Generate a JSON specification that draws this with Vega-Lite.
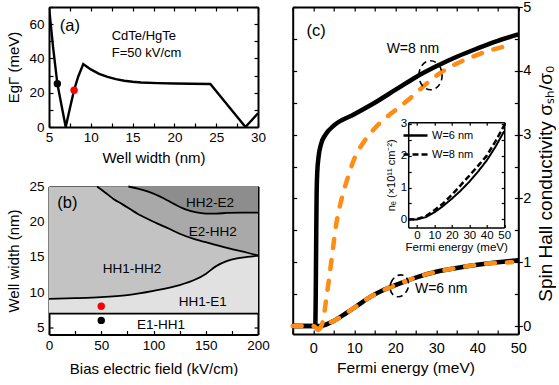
{
  "$schema": "https://vega.github.io/schema/vega-lite/v6.json",
  "padding": {"left": 6, "top": -1, "right": 0, "bottom": 0},
  "autosize": {"type": "pad"},
  "config": {
    "font": "Liberation Sans",
    "view": {"stroke": null},
    "axis": {"domainColor": "black", "domainWidth": 2, "tickColor": "black", "tickWidth": 1.2, "tickSize": -4, "labelColor": "black", "titleColor": "black", "labelFlush": false, "labelOverlap": false, "labelBound": false, "grid": false, "titleFontWeight": "normal", "zindex": 1, "labelFontSize": 13.5, "titleFontSize": 15, "labelFont": "Liberation Sans", "titleFont": "Liberation Sans"},
    "text": {"font": "Liberation Sans", "color": "black"}
  },
  "datasets": {
    "a_curve": [
      {"x": 5, "y": 70}, {"x": 5.5, "y": 46}, {"x": 6, "y": 25.3}, {"x": 6.5, "y": 12.5}, {"x": 7, "y": 0},
      {"x": 7.5, "y": 11}, {"x": 8, "y": 21.5}, {"x": 8.5, "y": 29.5}, {"x": 9.1, "y": 36.7}, {"x": 9.5, "y": 35.3},
      {"x": 10, "y": 33.6}, {"x": 11, "y": 31}, {"x": 12, "y": 29.2}, {"x": 13, "y": 27.9}, {"x": 14, "y": 27},
      {"x": 15, "y": 26.4}, {"x": 16, "y": 26}, {"x": 18, "y": 25.6}, {"x": 20, "y": 25.4}, {"x": 22, "y": 25.2},
      {"x": 24.3, "y": 25.1}, {"x": 28.5, "y": 0}, {"x": 30, "y": 8}
    ],
    "a_dots": [{"x": 6, "y": 25.3, "W": "6 nm"}, {"x": 8, "y": 21.5, "W": "8 nm"}],
    "a_label": [{"x": 7.5, "y": 58.9, "label": "(a)"}],
    "a_note": [{"x": 12.5, "y": 53.2, "label": "CdTe/HgTe"}, {"x": 12.5, "y": 43.4, "label": "F=50 kV/cm"}],
    "b_area": [
      {"region": "HH1-E1", "x": 0, "lo": 6.95, "hi": 9.05}, {"region": "HH1-E1", "x": 25, "lo": 6.95, "hi": 9.15},
      {"region": "HH1-E1", "x": 50, "lo": 6.95, "hi": 9.3}, {"region": "HH1-E1", "x": 75, "lo": 6.95, "hi": 9.6},
      {"region": "HH1-E1", "x": 100, "lo": 6.95, "hi": 10.2}, {"region": "HH1-E1", "x": 125, "lo": 6.95, "hi": 11.0},
      {"region": "HH1-E1", "x": 140, "lo": 6.95, "hi": 11.8}, {"region": "HH1-E1", "x": 150, "lo": 6.95, "hi": 12.6},
      {"region": "HH1-E1", "x": 160, "lo": 6.95, "hi": 13.7}, {"region": "HH1-E1", "x": 170, "lo": 6.95, "hi": 14.4},
      {"region": "HH1-E1", "x": 180, "lo": 6.95, "hi": 14.8}, {"region": "HH1-E1", "x": 190, "lo": 6.95, "hi": 15.0},
      {"region": "HH1-E1", "x": 200, "lo": 6.95, "hi": 15.2},
      {"region": "HH1-HH2", "x": 0, "lo": 9.05, "hi": 25}, {"region": "HH1-HH2", "x": 25, "lo": 9.15, "hi": 25},
      {"region": "HH1-HH2", "x": 50, "lo": 9.3, "hi": 25}, {"region": "HH1-HH2", "x": 75, "lo": 9.6, "hi": 25},
      {"region": "HH1-HH2", "x": 100, "lo": 10.2, "hi": 25}, {"region": "HH1-HH2", "x": 125, "lo": 11.0, "hi": 25},
      {"region": "HH1-HH2", "x": 140, "lo": 11.8, "hi": 25}, {"region": "HH1-HH2", "x": 150, "lo": 12.6, "hi": 25},
      {"region": "HH1-HH2", "x": 160, "lo": 13.7, "hi": 25}, {"region": "HH1-HH2", "x": 170, "lo": 14.4, "hi": 25},
      {"region": "HH1-HH2", "x": 180, "lo": 14.8, "hi": 25}, {"region": "HH1-HH2", "x": 190, "lo": 15.0, "hi": 25},
      {"region": "HH1-HH2", "x": 200, "lo": 15.2, "hi": 25},
      {"region": "E2-HH2", "x": 46, "lo": 25, "hi": 25}, {"region": "E2-HH2", "x": 55, "lo": 24.0, "hi": 25},
      {"region": "E2-HH2", "x": 62, "lo": 23.2, "hi": 25}, {"region": "E2-HH2", "x": 70, "lo": 22.5, "hi": 25},
      {"region": "E2-HH2", "x": 85, "lo": 21.1, "hi": 25}, {"region": "E2-HH2", "x": 100, "lo": 20.0, "hi": 25},
      {"region": "E2-HH2", "x": 115, "lo": 19.0, "hi": 25}, {"region": "E2-HH2", "x": 125, "lo": 18.3, "hi": 25},
      {"region": "E2-HH2", "x": 140, "lo": 17.5, "hi": 25}, {"region": "E2-HH2", "x": 150, "lo": 17.1, "hi": 25},
      {"region": "E2-HH2", "x": 165, "lo": 16.5, "hi": 25}, {"region": "E2-HH2", "x": 175, "lo": 16.1, "hi": 25},
      {"region": "E2-HH2", "x": 190, "lo": 15.6, "hi": 25}, {"region": "E2-HH2", "x": 200, "lo": 15.2, "hi": 25},
      {"region": "HH2-E2", "x": 76, "lo": 25, "hi": 25}, {"region": "HH2-E2", "x": 85, "lo": 24.7, "hi": 25},
      {"region": "HH2-E2", "x": 100, "lo": 24.0, "hi": 25}, {"region": "HH2-E2", "x": 110, "lo": 23.3, "hi": 25},
      {"region": "HH2-E2", "x": 120, "lo": 22.5, "hi": 25}, {"region": "HH2-E2", "x": 130, "lo": 21.8, "hi": 25},
      {"region": "HH2-E2", "x": 140, "lo": 21.35, "hi": 25}, {"region": "HH2-E2", "x": 150, "lo": 21.15, "hi": 25},
      {"region": "HH2-E2", "x": 160, "lo": 21.15, "hi": 25}, {"region": "HH2-E2", "x": 170, "lo": 21.25, "hi": 25},
      {"region": "HH2-E2", "x": 185, "lo": 21.3, "hi": 25}, {"region": "HH2-E2", "x": 200, "lo": 21.3, "hi": 25}
    ],
    "b_dots": [{"x": 50, "y": 8, "W": "8 nm"}, {"x": 50, "y": 6, "W": "6 nm"}],
    "b_label": [{"x": 17.6, "y": 22.6, "label": "(b)"}],
    "b_note": [
      {"x": 154, "y": 22.7, "label": "HH2-E2"}, {"x": 156.8, "y": 18.6, "label": "E2-HH2"},
      {"x": 79.4, "y": 13.3, "label": "HH1-HH2"}, {"x": 147.2, "y": 8.67, "label": "HH1-E1"},
      {"x": 107.2, "y": 5.34, "label": "E1-HH1"}
    ],
    "c_s8": [
      {"x": -5, "y": 0}, {"x": 0.5, "y": 0}, {"x": 0.62, "y": 0.5}, {"x": 0.72, "y": 1.3}, {"x": 0.82, "y": 2.0},
      {"x": 0.98, "y": 2.4}, {"x": 1.3, "y": 2.65}, {"x": 1.9, "y": 2.85}, {"x": 3, "y": 3.0}, {"x": 5, "y": 3.14},
      {"x": 10, "y": 3.32}, {"x": 15, "y": 3.5}, {"x": 20, "y": 3.7}, {"x": 25, "y": 3.9}, {"x": 30, "y": 4.07},
      {"x": 35, "y": 4.22}, {"x": 40, "y": 4.35}, {"x": 45, "y": 4.47}, {"x": 50, "y": 4.57}
    ],
    "c_s6": [
      {"x": -5, "y": 0}, {"x": 1.5, "y": 0}, {"x": 3, "y": 0.02}, {"x": 5, "y": 0.08}, {"x": 8, "y": 0.2},
      {"x": 11, "y": 0.33}, {"x": 14, "y": 0.46}, {"x": 17, "y": 0.56}, {"x": 20, "y": 0.64}, {"x": 25, "y": 0.76},
      {"x": 30, "y": 0.85}, {"x": 35, "y": 0.91}, {"x": 40, "y": 0.96}, {"x": 45, "y": 1.0}, {"x": 50, "y": 1.03}
    ],
    "c_d8": [
      {"x": 1.2, "y": -0.06}, {"x": 1.8, "y": -0.02}, {"x": 2.5, "y": 0.12}, {"x": 3.1, "y": 0.39}, {"x": 3.9, "y": 0.76},
      {"x": 4.75, "y": 1.18}, {"x": 5.6, "y": 1.59}, {"x": 6.8, "y": 1.96}, {"x": 8.4, "y": 2.32}, {"x": 10, "y": 2.62},
      {"x": 12.5, "y": 2.9}, {"x": 15, "y": 3.1}, {"x": 18, "y": 3.28}, {"x": 21, "y": 3.43}, {"x": 24.7, "y": 3.63},
      {"x": 29.1, "y": 3.88}, {"x": 33.6, "y": 4.07}, {"x": 38.1, "y": 4.2}, {"x": 42.6, "y": 4.31}, {"x": 48, "y": 4.4}
    ],
    "c_d6": [
      {"x": -5, "y": 0}, {"x": 0, "y": 0}, {"x": 0.7, "y": -0.03}, {"x": 1.2, "y": -0.06}, {"x": 2, "y": -0.01},
      {"x": 3, "y": 0.03}, {"x": 5, "y": 0.08}, {"x": 8, "y": 0.2}, {"x": 11, "y": 0.33}, {"x": 14, "y": 0.46},
      {"x": 17, "y": 0.56}, {"x": 20, "y": 0.64}, {"x": 25, "y": 0.76}, {"x": 30, "y": 0.85}, {"x": 35, "y": 0.91},
      {"x": 40, "y": 0.96}, {"x": 45, "y": 0.99}, {"x": 48.5, "y": 1.0}
    ],
    "c_ell8": [{"x": 28.6, "y": 3.93}],
    "c_ell6": [{"x": 21.0, "y": 0.63}],
    "c_label": [{"x": 0.7, "y": 4.62, "label": "(c)"}],
    "c_note": [{"x": 24.3, "y": 4.34, "label": "W=8 nm"}, {"x": 31.2, "y": 0.575, "label": "W=6 nm"}],
    "c_inset": [
      {"W": "W=6 nm", "x": -5, "y": 0}, {"W": "W=6 nm", "x": 0, "y": 0}, {"W": "W=6 nm", "x": 5, "y": 0.07},
      {"W": "W=6 nm", "x": 10, "y": 0.22}, {"W": "W=6 nm", "x": 15, "y": 0.42}, {"W": "W=6 nm", "x": 20, "y": 0.65},
      {"W": "W=6 nm", "x": 25, "y": 0.9}, {"W": "W=6 nm", "x": 30, "y": 1.18}, {"W": "W=6 nm", "x": 35, "y": 1.5},
      {"W": "W=6 nm", "x": 40, "y": 1.85}, {"W": "W=6 nm", "x": 45, "y": 2.28}, {"W": "W=6 nm", "x": 50, "y": 2.77},
      {"W": "W=8 nm", "x": -5, "y": 0}, {"W": "W=8 nm", "x": 0, "y": 0.01}, {"W": "W=8 nm", "x": 5, "y": 0.1},
      {"W": "W=8 nm", "x": 10, "y": 0.29}, {"W": "W=8 nm", "x": 15, "y": 0.5}, {"W": "W=8 nm", "x": 20, "y": 0.77},
      {"W": "W=8 nm", "x": 25, "y": 1.07}, {"W": "W=8 nm", "x": 30, "y": 1.37}, {"W": "W=8 nm", "x": 35, "y": 1.68},
      {"W": "W=8 nm", "x": 40, "y": 2.0}, {"W": "W=8 nm", "x": 45, "y": 2.45}, {"W": "W=8 nm", "x": 50, "y": 2.95}
    ]
  },
  "spacing": 13.7,
  "hconcat": [
    {
      "vconcat": [
        {
          "width": 209, "height": 120,
          "resolve": {"axis": {"x": "independent", "y": "independent"}},
          "layer": [
            {
              "data": {"name": "a_curve"},
              "mark": {"type": "line", "color": "black", "strokeWidth": 2.4, "clip": true},
              "encoding": {
                "x": {"field": "x", "type": "quantitative", "scale": {"domain": [5, 30], "nice": false, "zero": false},
                  "axis": {"orient": "bottom", "title": "Well width (nm)", "values": [5, 7.5, 10, 12.5, 15, 17.5, 20, 22.5, 25, 27.5, 30], "labelExpr": "datum.value % 5 === 0 ? datum.label : ''", "labelPadding": 7, "titlePadding": 7}},
                "y": {"field": "y", "type": "quantitative", "scale": {"domain": [0, 70], "nice": false, "zero": false},
                  "axis": {"orient": "left", "title": "EgΓ (meV)", "values": [0, 10, 20, 30, 40, 50, 60, 70], "labelExpr": "datum.value % 20 === 0 ? datum.label : ''", "labelPadding": 9, "titlePadding": 6, "minExtent": 22, "maxExtent": 22}}
              }
            },
            {
              "data": {"name": "a_dots"},
              "mark": {"type": "circle", "size": 55, "opacity": 1},
              "encoding": {
                "x": {"field": "x", "type": "quantitative", "axis": {"orient": "top", "labels": false, "title": null, "values": [5, 7.5, 10, 12.5, 15, 17.5, 20, 22.5, 25, 27.5, 30]}},
                "y": {"field": "y", "type": "quantitative", "axis": {"orient": "right", "labels": false, "title": null, "values": [0, 10, 20, 30, 40, 50, 60, 70]}},
                "color": {"field": "W", "type": "nominal", "scale": {"domain": ["6 nm", "8 nm"], "range": ["black", "#ff0000"]}, "legend": null}
              }
            },
            {
              "data": {"name": "a_label"},
              "mark": {"type": "text", "fontSize": 16.5, "align": "center", "baseline": "middle"},
              "encoding": {
                "x": {"field": "x", "type": "quantitative", "axis": null},
                "y": {"field": "y", "type": "quantitative", "axis": null},
                "text": {"field": "label"}
              }
            },
            {
              "data": {"name": "a_note"},
              "mark": {"type": "text", "fontSize": 13, "align": "left", "baseline": "middle"},
              "encoding": {
                "x": {"field": "x", "type": "quantitative", "axis": null},
                "y": {"field": "y", "type": "quantitative", "axis": null},
                "text": {"field": "label"}
              }
            }
          ]
        },
        {
          "width": 209, "height": 148,
          "resolve": {"axis": {"x": "independent", "y": "independent"}},
          "layer": [
            {
              "data": {"name": "b_area"},
              "transform": [{"filter": "datum.region === 'HH1-E1'"}],
              "mark": {"type": "area", "color": "#e1e1e1", "interpolate": "monotone", "opacity": 1},
              "encoding": {
                "x": {"field": "x", "type": "quantitative", "scale": {"domain": [0, 200], "nice": false, "zero": false},
                  "axis": {"orient": "bottom", "title": "Bias electric field (kV/cm)", "values": [0, 25, 50, 75, 100, 125, 150, 175, 200], "labelExpr": "datum.value % 50 === 0 ? datum.label : ''", "labelPadding": 8, "titlePadding": 9}},
                "y": {"field": "lo", "type": "quantitative", "scale": {"domain": [4, 25], "nice": false, "zero": false},
                  "axis": {"orient": "left", "title": "Well width (nm)", "values": [5, 7.5, 10, 12.5, 15, 17.5, 20, 22.5, 25], "labelExpr": "datum.value % 5 === 0 ? datum.label : ''", "labelPadding": 9, "titlePadding": 6, "minExtent": 22, "maxExtent": 22}},
                "y2": {"field": "hi"}
              }
            },
            {
              "data": {"name": "b_area"},
              "transform": [{"filter": "datum.region === 'HH1-HH2'"}],
              "mark": {"type": "area", "color": "#c3c3c3", "interpolate": "monotone", "opacity": 1},
              "encoding": {
                "x": {"field": "x", "type": "quantitative", "axis": null},
                "y": {"field": "lo", "type": "quantitative", "axis": null},
                "y2": {"field": "hi"}
              }
            },
            {
              "data": {"name": "b_area"},
              "transform": [{"filter": "datum.region === 'E2-HH2'"}],
              "mark": {"type": "area", "color": "#a9a9a9", "interpolate": "monotone", "opacity": 1},
              "encoding": {
                "x": {"field": "x", "type": "quantitative", "axis": null},
                "y": {"field": "lo", "type": "quantitative", "axis": null},
                "y2": {"field": "hi"}
              }
            },
            {
              "data": {"name": "b_area"},
              "transform": [{"filter": "datum.region === 'HH2-E2'"}],
              "mark": {"type": "area", "color": "#8d8d8d", "interpolate": "monotone", "opacity": 1},
              "encoding": {
                "x": {"field": "x", "type": "quantitative", "axis": null},
                "y": {"field": "lo", "type": "quantitative", "axis": null},
                "y2": {"field": "hi"}
              }
            },
            {
              "data": {"name": "b_area"},
              "mark": {"type": "line", "color": "black", "strokeWidth": 1.8, "interpolate": "monotone"},
              "encoding": {
                "x": {"field": "x", "type": "quantitative", "axis": null},
                "y": {"field": "lo", "type": "quantitative", "axis": null},
                "detail": {"field": "region"}
              }
            },
            {
              "data": {"name": "b_dots"},
              "mark": {"type": "circle", "size": 55, "opacity": 1},
              "encoding": {
                "x": {"field": "x", "type": "quantitative", "axis": {"orient": "top", "labels": false, "title": null, "values": [0, 25, 50, 75, 100, 125, 150, 175, 200]}},
                "y": {"field": "y", "type": "quantitative", "axis": {"orient": "right", "labels": false, "title": null, "values": [5, 7.5, 10, 12.5, 15, 17.5, 20, 22.5, 25]}},
                "color": {"field": "W", "type": "nominal", "scale": {"domain": ["6 nm", "8 nm"], "range": ["black", "#ff0000"]}, "legend": null}
              }
            },
            {
              "data": {"name": "b_label"},
              "mark": {"type": "text", "fontSize": 16.5, "align": "center", "baseline": "middle"},
              "encoding": {
                "x": {"field": "x", "type": "quantitative", "axis": null},
                "y": {"field": "y", "type": "quantitative", "axis": null},
                "text": {"field": "label"}
              }
            },
            {
              "data": {"name": "b_note"},
              "mark": {"type": "text", "fontSize": 13.5, "align": "center", "baseline": "middle"},
              "encoding": {
                "x": {"field": "x", "type": "quantitative", "axis": null},
                "y": {"field": "y", "type": "quantitative", "axis": null},
                "text": {"field": "label"}
              }
            }
          ]
        }
      ],
      "spacing": 59.5,
      "bounds": "flush"
    },
    {
      "width": 225.6, "height": 327,
      "resolve": {"scale": {"x": "independent", "y": "independent"}},
      "layer": [
        {
          "data": {"name": "c_s8"},
          "mark": {"type": "line", "color": "black", "strokeWidth": 4.5, "interpolate": "monotone"},
          "encoding": {
            "x": {"field": "x", "type": "quantitative", "scale": {"domain": [-5, 50], "nice": false, "zero": false},
              "axis": {"orient": "bottom", "title": "Fermi energy (meV)", "values": [-5, 0, 5, 10, 15, 20, 25, 30, 35, 40, 45, 50], "labelExpr": "datum.value % 10 === 0 ? datum.label : ''", "labelFontSize": 14.5, "labelPadding": 11, "titleFontSize": 15.5, "titlePadding": 6}},
            "y": {"field": "y", "type": "quantitative", "scale": {"domain": [-0.125, 5], "nice": false, "zero": false},
              "axis": {"orient": "left", "labels": false, "title": null, "values": [0, 0.5, 1, 1.5, 2, 2.5, 3, 3.5, 4, 4.5, 5]}}
          }
        },
        {
          "data": {"name": "c_s6"},
          "mark": {"type": "line", "color": "black", "strokeWidth": 4.5, "interpolate": "monotone"},
          "encoding": {
            "x": {"field": "x", "type": "quantitative", "scale": {"domain": [-5, 50], "nice": false, "zero": false},
              "axis": {"orient": "top", "labels": false, "title": null, "values": [-5, 0, 5, 10, 15, 20, 25, 30, 35, 40, 45, 50]}},
            "y": {"field": "y", "type": "quantitative", "scale": {"domain": [-0.125, 5], "nice": false, "zero": false},
              "axis": {"orient": "right", "title": "Spin Hall conductivity σₛₕ/σ₀", "values": [0, 0.5, 1, 1.5, 2, 2.5, 3, 3.5, 4, 4.5, 5], "labelExpr": "datum.value % 1 === 0 ? format(datum.value, 'd') : ''", "labelFontSize": 14.5, "labelPadding": 8.5, "titleFontSize": 19, "titleAngle": 270, "titleBaseline": "top", "titlePadding": 6, "titleY": 176}}
          }
        },
        {
          "data": {"name": "c_d8"},
          "mark": {"type": "line", "color": "#ff8c14", "strokeWidth": 4.5, "strokeDash": [9, 12], "strokeCap": "round", "interpolate": "monotone"},
          "encoding": {
            "x": {"field": "x", "type": "quantitative", "scale": {"domain": [-5, 50], "nice": false, "zero": false}, "axis": null},
            "y": {"field": "y", "type": "quantitative", "scale": {"domain": [-0.125, 5], "nice": false, "zero": false},
              "axis": {"orient": "right", "labels": false, "title": null, "domain": false, "values": [0, 1, 2, 3, 4, 5], "tickSize": 4}}
          }
        },
        {
          "data": {"name": "c_d6"},
          "mark": {"type": "line", "color": "#ff8c14", "strokeWidth": 4.5, "strokeDash": [9, 12], "strokeCap": "round", "interpolate": "monotone"},
          "encoding": {
            "x": {"field": "x", "type": "quantitative", "scale": {"domain": [-5, 50], "nice": false, "zero": false}, "axis": null},
            "y": {"field": "y", "type": "quantitative", "scale": {"domain": [-0.125, 5], "nice": false, "zero": false}, "axis": null}
          }
        },
        {
          "data": {"name": "c_ell8"},
          "mark": {"type": "point", "shape": "M -0.8 0 A 0.8 1 0 1 1 0.8 0 A 0.8 1 0 1 1 -0.8 0 Z", "size": 841, "filled": false, "stroke": "black", "strokeWidth": 1.6, "strokeDash": [6, 4], "opacity": 1},
          "encoding": {
            "x": {"field": "x", "type": "quantitative", "scale": {"domain": [-5, 50], "nice": false, "zero": false}, "axis": null},
            "y": {"field": "y", "type": "quantitative", "scale": {"domain": [-0.125, 5], "nice": false, "zero": false}, "axis": null}
          }
        },
        {
          "data": {"name": "c_ell6"},
          "mark": {"type": "point", "shape": "M -0.8 0 A 0.8 1 0 1 1 0.8 0 A 0.8 1 0 1 1 -0.8 0 Z", "size": 500, "angle": 20, "filled": false, "stroke": "black", "strokeWidth": 1.6, "strokeDash": [6, 4], "opacity": 1},
          "encoding": {
            "x": {"field": "x", "type": "quantitative", "scale": {"domain": [-5, 50], "nice": false, "zero": false}, "axis": null},
            "y": {"field": "y", "type": "quantitative", "scale": {"domain": [-0.125, 5], "nice": false, "zero": false}, "axis": null}
          }
        },
        {
          "data": {"name": "c_label"},
          "mark": {"type": "text", "fontSize": 16.5, "align": "center", "baseline": "middle"},
          "encoding": {
            "x": {"field": "x", "type": "quantitative", "scale": {"domain": [-5, 50], "nice": false, "zero": false}, "axis": null},
            "y": {"field": "y", "type": "quantitative", "scale": {"domain": [-0.125, 5], "nice": false, "zero": false}, "axis": null},
            "text": {"field": "label"}
          }
        },
        {
          "data": {"name": "c_note"},
          "mark": {"type": "text", "fontSize": 14, "align": "center", "baseline": "middle"},
          "encoding": {
            "x": {"field": "x", "type": "quantitative", "scale": {"domain": [-5, 50], "nice": false, "zero": false}, "axis": null},
            "y": {"field": "y", "type": "quantitative", "scale": {"domain": [-0.125, 5], "nice": false, "zero": false}, "axis": null},
            "text": {"field": "label"}
          }
        },
        {
          "data": {"name": "c_inset"},
          "transform": [{"filter": "datum.W === 'W=6 nm'"}],
          "mark": {"type": "line", "color": "black", "strokeWidth": 2},
          "encoding": {
            "x": {"field": "x", "type": "quantitative", "scale": {"domain": [-5, 50], "range": [115.5, 211.5], "nice": false, "zero": false},
              "axis": {"orient": "bottom", "offset": -106.6, "title": "Fermi energy (meV)", "values": [0, 10, 20, 30, 40, 50], "labelFontSize": 11.5, "titleFontSize": 11.5, "labelPadding": 5, "titlePadding": 1, "tickSize": -3, "domainWidth": 1.5}},
            "y": {"field": "y", "type": "quantitative", "scale": {"domain": [-0.25, 3.05], "range": [220.4, 115.2], "nice": false, "zero": false},
              "axis": {"orient": "left", "offset": -115.5, "title": "nₑ (×10¹¹ cm⁻²)", "values": [0, 0.5, 1, 1.5, 2, 2.5, 3], "labelExpr": "datum.value % 1 === 0 ? format(datum.value, 'd') : ''", "labelFontSize": 11.5, "titleFontSize": 11, "labelPadding": 4.5, "titlePadding": 4, "tickSize": -3, "domainWidth": 1.5}},
            "strokeDash": {"field": "W", "type": "nominal", "scale": {"domain": ["W=6 nm", "W=8 nm"], "range": [[1, 0], [6, 3]]},
              "legend": {"orient": "none", "legendX": 353, "legendY": 115, "title": null, "symbolType": "stroke", "symbolSize": 576, "symbolStrokeWidth": 2.5, "symbolStrokeColor": "black", "labelFontSize": 11, "rowPadding": -8, "padding": 0, "labelOffset": 3}}
          }
        },
        {
          "data": {"name": "c_inset"},
          "transform": [{"filter": "datum.W === 'W=8 nm'"}],
          "mark": {"type": "line", "color": "black", "strokeWidth": 2.5},
          "encoding": {
            "x": {"field": "x", "type": "quantitative", "scale": {"domain": [-5, 50], "range": [115.5, 211.5], "nice": false, "zero": false},
              "axis": {"orient": "top", "offset": -115.2, "labels": false, "title": null, "values": [0, 10, 20, 30, 40, 50], "tickSize": -3, "domainWidth": 1.5}},
            "y": {"field": "y", "type": "quantitative", "scale": {"domain": [-0.25, 3.05], "range": [220.4, 115.2], "nice": false, "zero": false},
              "axis": {"orient": "right", "offset": -14.1, "labels": false, "title": null, "values": [0, 0.5, 1, 1.5, 2, 2.5, 3], "tickSize": -3, "domainWidth": 1.5}},
            "strokeDash": {"field": "W", "type": "nominal"}
          }
        }
      ]
    }
  ]
}
